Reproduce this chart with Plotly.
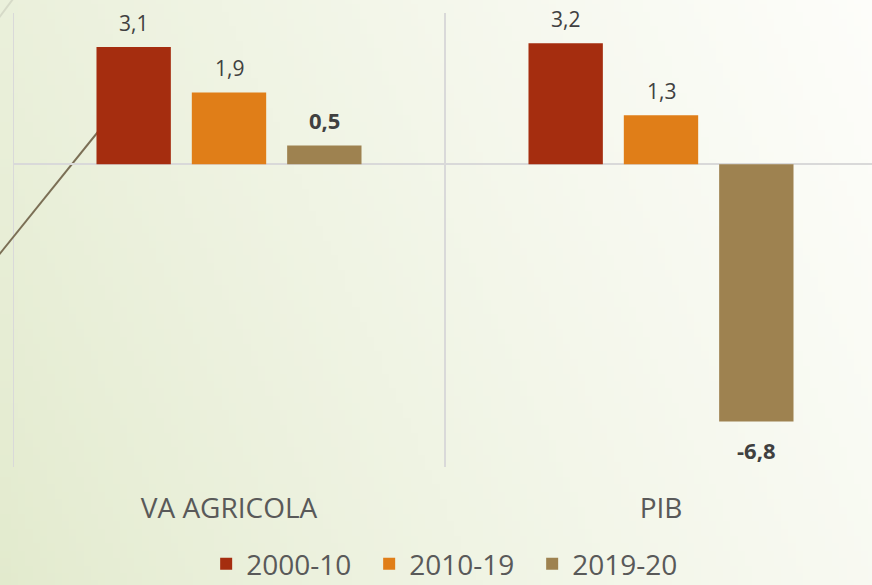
import base64, struct, zlib
import plotly.graph_objects as go

categories = ["VA AGRICOLA", "PIB"]
series_names = ["2000-10", "2010-19", "2019-20"]
values_2000_10 = [3.1, 3.2]
values_2010_19 = [1.9, 1.3]
values_2019_20 = [0.5, -6.8]
series_values = [values_2000_10, values_2010_19, values_2019_20]
series_colors = ["#A52D0F", "#E07E18", "#9E8250"]
bold_series = [False, False, True]

W, H = 872, 585
EXTRA = 6  # figure drawn slightly taller than the window; the page clips it
ML, MR, MT, MB = 13, 0, 13, 118 + EXTRA
FH = H + EXTRA
PW, PH = W - ML - MR, FH - MT - MB
BARGAP = 0.338
BARGROUPGAP = 0.22


def gradient_png(w, h, c0, c1):
    rows = []
    for j in range(h):
        row = bytearray([0])
        for i in range(w):
            t = (i / (w - 1) + 0.3 * (1 - j / (h - 1))) / 1.3
            t = min(1.0, max(0.0, t)) ** 0.8
            for k in range(3):
                row.append(int(round(c0[k] + (c1[k] - c0[k]) * t)))
        rows.append(bytes(row))
    raw = b"".join(rows)

    def chunk(tag, data):
        return struct.pack(">I", len(data)) + tag + data + struct.pack(">I", zlib.crc32(tag + data) & 0xFFFFFFFF)

    png = b"\x89PNG\r\n\x1a\n"
    png += chunk(b"IHDR", struct.pack(">IIBBBBB", w, h, 8, 2, 0, 0, 0))
    png += chunk(b"IDAT", zlib.compress(raw, 9))
    png += chunk(b"IEND", b"")
    return "data:image/png;base64," + base64.b64encode(png).decode()


def fmt(v):
    return f"{v:.1f}".replace(".", ",")


fig = go.Figure()
for name, vals, col in zip(series_names, series_values, series_colors):
    fig.add_trace(go.Bar(name=name, x=categories, y=vals, marker_color=col,
                         marker_line_width=0))

# data labels through the axis scales
slot = (1 - BARGAP) / len(series_names)
for k, (vals, bold) in enumerate(zip(series_values, bold_series)):
    off = (k - (len(series_names) - 1) / 2) * slot
    for i, v in enumerate(vals):
        txt = fmt(v)
        if bold:
            txt = f"<b>{txt}</b>"
        fig.add_annotation(x=i + off, y=v, text=txt, showarrow=False,
                           xref="x", yref="y",
                           yanchor="bottom" if v >= 0 else "top",
                           yshift=8 if v >= 0 else -11,
                           font=dict(family="Open Sans", size=22 if bold else 21,
                                     color="#404040"))

# category boundaries (vertical grid lines)
for xb in [-0.5, 0.5]:
    fig.add_shape(type="line", xref="x", yref="paper", x0=xb, x1=xb, y0=0, y1=1,
                  line=dict(color="#D9D9D9", width=2), layer="below")

# decorative slide lines
def px2paper(px, py):
    return (px - ML) / PW, (MT + PH - py) / PH

x0, y0 = px2paper(-2, 256)
x1, y1 = px2paper(130, 92)
fig.add_shape(type="line", xref="paper", yref="paper", x0=x0, y0=y0, x1=x1, y1=y1,
              line=dict(color="#7B6F55", width=2), layer="below")
x0, y0 = px2paper(-2, 19)
x1, y1 = px2paper(13, -1)
fig.add_shape(type="line", xref="paper", yref="paper", x0=x0, y0=y0, x1=x1, y1=y1,
              line=dict(color="#D6DAC8", width=2), layer="below")

fig.add_layout_image(dict(
    source=gradient_png(120, 80, (226, 234, 205), (253, 253, 250)),
    xref="paper", yref="paper",
    x=-ML / PW, y=1 + MT / PH, sizex=W / PW, sizey=FH / PH,
    xanchor="left", yanchor="top", sizing="stretch", layer="below"))

fig.update_layout(
    width=W, height=FH,
    margin=dict(l=ML, r=MR, t=MT, b=MB, pad=0),
    paper_bgcolor="#F2F5E8",
    plot_bgcolor="rgba(0,0,0,0)",
    barmode="group", bargap=BARGAP, bargroupgap=BARGROUPGAP,
    font=dict(family="Open Sans", color="#595959"),
    showlegend=True,
    legend=dict(orientation="h", x=0.5095, xanchor="center", y=-(MB - 2) / PH,
                yanchor="bottom",
                font=dict(size=28, color="#595959"), bgcolor="rgba(0,0,0,0)",
                entrywidth=118, entrywidthmode="pixels",
                traceorder="normal"),
    xaxis=dict(range=[-0.5, -0.5 + PW / 432.0], showgrid=False, zeroline=False,
               showline=False, ticks="", ticklabelstandoff=22,
               tickfont=dict(size=28, color="#595959")),
    yaxis=dict(range=[-8, 4], showgrid=False, showticklabels=False, ticks="",
               zeroline=True, zerolinecolor="#D9D9D9", zerolinewidth=2,
               showline=False),
)

fig.write_html("out.html", config={"displayModeBar": False},
               post_script="document.body.style.margin='0';document.body.style.overflow='hidden';")
